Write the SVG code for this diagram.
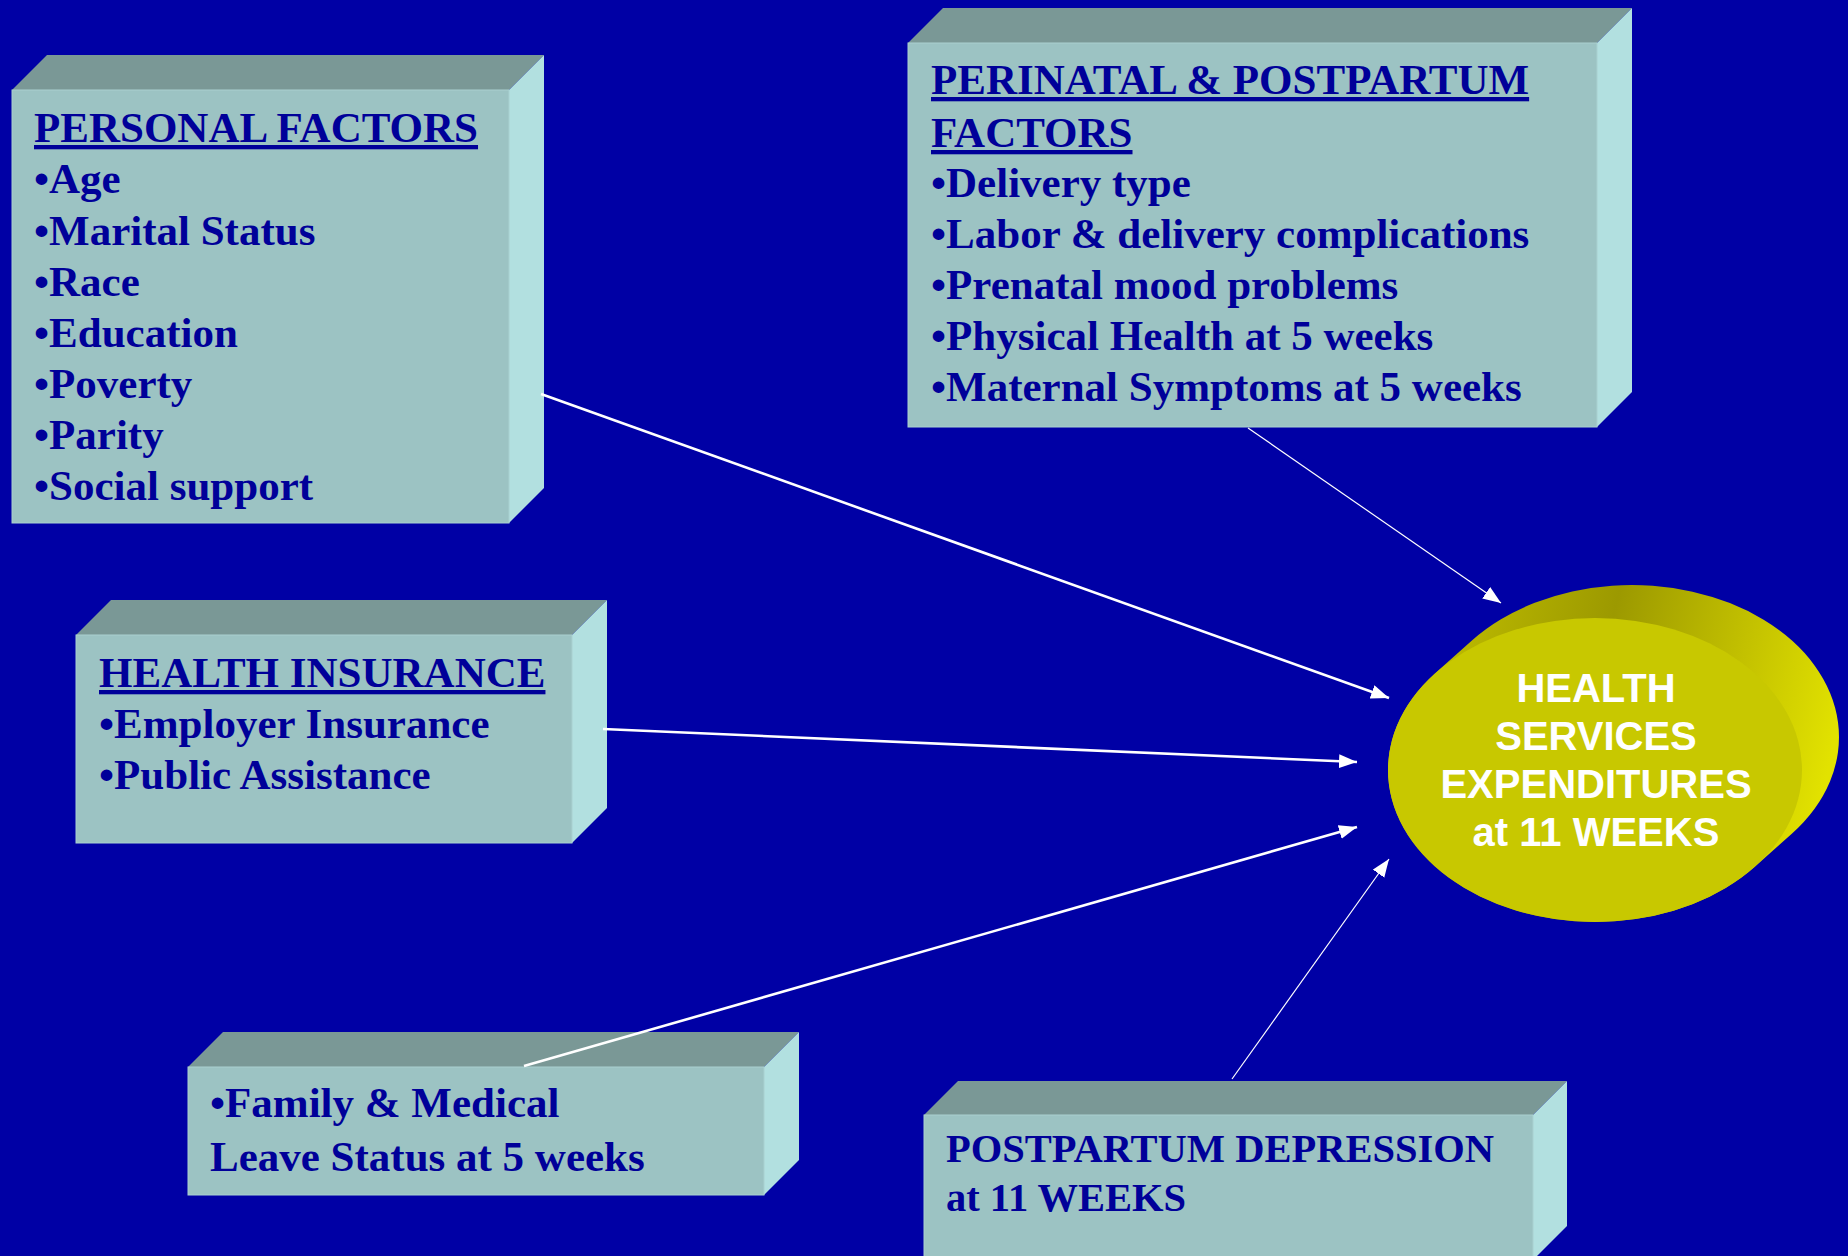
<svg xmlns="http://www.w3.org/2000/svg" width="1848" height="1256" viewBox="0 0 1848 1256">
  <style>
    .front { fill: #9CC3C3; stroke: #A9D0D0; stroke-width: 1; }
    .top { fill: #7A9896; }
    .side { fill: #B2E0E0; }
    .t { font-family: "Liberation Serif", "Times New Roman", serif; font-weight: bold; font-size: 43px; fill: #000099; }
    .t40 { font-size: 40.5px; }
    .u { text-decoration: underline; }
    .e { font-family: "Liberation Sans", Arial, sans-serif; font-weight: bold; font-size: 40px; fill: #FFFFFF; text-anchor: middle; }
    .thick { stroke: #FFFFFF; stroke-width: 2.6; fill: none; marker-end: url(#ah); }
    .thin { stroke: #FFFFFF; stroke-width: 1.2; fill: none; marker-end: url(#ah); }
  </style>
  <defs>
    <marker id="ah" markerUnits="userSpaceOnUse" markerWidth="19" markerHeight="15" refX="18" refY="7" orient="auto">
      <path d="M0,0 L18,7 L0,14 Z" fill="#FFFFFF"/>
    </marker>
    <linearGradient id="cyl" gradientUnits="userSpaceOnUse" x1="1430" y1="620" x2="1840" y2="720">
      <stop offset="0" stop-color="#C0BE00"/>
      <stop offset="0.42" stop-color="#9C9900"/>
      <stop offset="0.75" stop-color="#C4C200"/>
      <stop offset="1" stop-color="#E2E200"/>
    </linearGradient>
  </defs>
  <rect x="0" y="0" width="1848" height="1256" fill="#0000A5"/>

  <g id="personal-factors">
    <polygon class="top" points="12,90 47,55 544,55 509,90"/>
    <polygon class="side" points="509,90 544,55 544,488 509,523"/>
    <rect class="front" x="12" y="90" width="497" height="433"/>
    <text class="t u" x="34" y="142">PERSONAL FACTORS</text>
    <text class="t" x="34" y="193">•Age</text>
    <text class="t" x="34" y="245">•Marital Status</text>
    <text class="t" x="34" y="296">•Race</text>
    <text class="t" x="34" y="347">•Education</text>
    <text class="t" x="34" y="398">•Poverty</text>
    <text class="t" x="34" y="449">•Parity</text>
    <text class="t" x="34" y="500">•Social support</text>
  </g>

  <g id="perinatal-postpartum-factors">
    <polygon class="top" points="908,43 943,8 1632,8 1597,43"/>
    <polygon class="side" points="1597,43 1632,8 1632,392 1597,427"/>
    <rect class="front" x="908" y="43" width="689" height="384"/>
    <text class="t u" x="931" y="94">PERINATAL &amp; POSTPARTUM</text>
    <text class="t u" x="931" y="147">FACTORS</text>
    <text class="t" x="931" y="197">•Delivery type</text>
    <text class="t" x="931" y="248">•Labor &amp; delivery complications</text>
    <text class="t" x="931" y="299">•Prenatal mood problems</text>
    <text class="t" x="931" y="350">•Physical Health at 5 weeks</text>
    <text class="t" x="931" y="401">•Maternal Symptoms at 5 weeks</text>
  </g>

  <g id="health-insurance">
    <polygon class="top" points="76,635 111,600 607,600 572,635"/>
    <polygon class="side" points="572,635 607,600 607,808 572,843"/>
    <rect class="front" x="76" y="635" width="496" height="208"/>
    <text class="t u" x="99" y="687">HEALTH INSURANCE</text>
    <text class="t" x="99" y="738">•Employer Insurance</text>
    <text class="t" x="99" y="789">•Public Assistance</text>
  </g>

  <g id="family-medical-leave">
    <polygon class="top" points="188,1067 223,1032 799,1032 764,1067"/>
    <polygon class="side" points="764,1067 799,1032 799,1160 764,1195"/>
    <rect class="front" x="188" y="1067" width="576" height="128"/>
    <text class="t" x="210" y="1117">•Family &amp; Medical</text>
    <text class="t" x="210" y="1171">Leave Status at 5 weeks</text>
  </g>

  <g id="postpartum-depression">
    <polygon class="top" points="924,1115 958,1081 1567,1081 1533,1115"/>
    <polygon class="side" points="1533,1115 1567,1081 1567,1226 1533,1260"/>
    <rect class="front" x="924" y="1115" width="609" height="160"/>
    <text class="t t40" x="946" y="1162">POSTPARTUM DEPRESSION</text>
    <text class="t t40" x="946" y="1211">at 11 WEEKS</text>
  </g>

  <g id="connectors">
    <line class="thick" x1="541" y1="394" x2="1389" y2="698"/>
    <line class="thick" x1="603" y1="729" x2="1357" y2="762"/>
    <line class="thick" x1="524" y1="1066" x2="1357" y2="827"/>
    <line class="thin" x1="1248" y1="428" x2="1501" y2="603"/>
    <line class="thin" x1="1232" y1="1079" x2="1389" y2="859"/>
  </g>

  <g id="health-services-expenditures">
    <path d="M1435.2,673.3 L1472.2,640.3 A207,152 0 0 1 1791.8,833.7 L1754.8,866.7 A207,152 0 0 1 1435.2,673.3 Z" fill="url(#cyl)"/>
    <ellipse cx="1595" cy="770" rx="207" ry="152" fill="#C8C800"/>
    <text class="e" x="1596" y="702">HEALTH</text>
    <text class="e" x="1596" y="750">SERVICES</text>
    <text class="e" x="1596" y="798">EXPENDITURES</text>
    <text class="e" x="1596" y="846">at 11 WEEKS</text>
  </g>
</svg>
